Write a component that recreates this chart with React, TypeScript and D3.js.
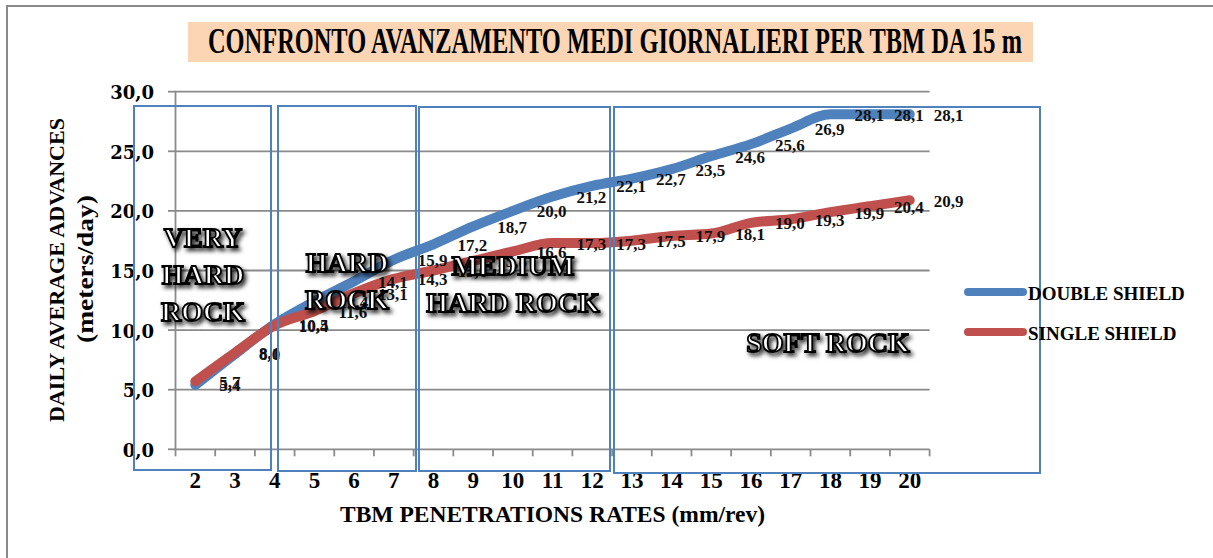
import React from "react";
import * as d3 from "d3";

const categories = ["2", "3", "4", "5", "6", "7", "8", "9", "10", "11", "12", "13", "14", "15", "16", "17", "18", "19", "20"];
const doubleShield = [5.4, 8.0, 10.5, 12.4, 14.1, 15.9, 17.2, 18.7, 20.0, 21.2, 22.1, 22.7, 23.5, 24.6, 25.6, 26.9, 28.1, 28.1, 28.1];
const singleShield = [5.7, 8.1, 10.4, 11.6, 13.1, 14.3, 15.0, 15.8, 16.6, 17.3, 17.3, 17.5, 17.9, 18.1, 19.0, 19.3, 19.9, 20.4, 20.9];
const yTicks = [0, 5, 10, 15, 20, 25, 30];
const seriesNames = ["DOUBLE SHIELD", "SINGLE SHIELD"];
const seriesColors = ["#4F81BD", "#C0504D"];
const title = "CONFRONTO AVANZAMENTO MEDI GIORNALIERI PER TBM DA 15 m";
const xTitle = "TBM PENETRATIONS RATES (mm/rev)";
const yTitle = ["DAILY AVERAGE ADVANCES", "(meters/day)"];

const zones = [
  { x0: 134, x1: 271, y0: 106, y1: 470, lines: ["VERY", "HARD", "ROCK"], cx: 203, base: [247, 284, 321] },
  { x0: 278, x1: 416, y0: 106, y1: 471, lines: ["HARD", "ROCK"], cx: 347, base: [272, 309] },
  { x0: 419, x1: 610, y0: 107, y1: 471, lines: ["MEDIUM", "HARD ROCK"], cx: 513, base: [275, 312] },
  { x0: 614, x1: 1040, y0: 107, y1: 473, lines: ["SOFT ROCK"], cx: 828, base: [352] },
];

const fmt = (v: number) => v.toFixed(1).replace(".", ",");

export default function App() {
  const W = 1213, H = 558;
  const x = d3.scaleBand<string>().domain(categories).range([175.5, 929.6]).padding(0);
  const bw = x.bandwidth();
  const cx = (c: string) => (x(c) as number) + bw / 2;
  const y = d3.scaleLinear().domain([0, 30]).range([449.3, 91.7]);
  const line = d3
    .line<number>()
    .x((_, i) => cx(categories[i]))
    .y((d) => y(d))
    .curve(d3.curveMonotoneX);
  const series = [doubleShield, singleShield];
  const serif = "'Liberation Serif', 'Times New Roman', serif";
  const boundaries = categories.map((c) => x(c) as number).concat([x.range()[1]]);

  return (
    <svg width={W} height={H} style={{ position: "absolute", left: 0, top: 0 }} xmlns="http://www.w3.org/2000/svg">
      <defs>
        <filter id="sh" x="-20%" y="-30%" width="150%" height="180%">
          <feDropShadow dx="2.5" dy="3" stdDeviation="2.2" floodColor="#000" floodOpacity="0.85" />
        </filter>
      </defs>
      <rect x={0} y={0} width={W} height={H} fill="#fff" />
      {/* outer frame */}
      <path d={`M7,${H} L7,6 L${W},6`} fill="none" stroke="#8a8a8a" strokeWidth={2} />
      {/* title */}
      <rect x={188} y={22} width={845} height={40} fill="#FCD5B4" />
      <text x={208} y={53} fontFamily={serif} fontWeight="bold" fontSize={36} textLength={814} lengthAdjust="spacingAndGlyphs" fill="#000">
        {title}
      </text>
      {/* gridlines */}
      {yTicks.map((t) => (
        <g key={t}>
          <line x1={175.5} x2={929.6} y1={y(t)} y2={y(t)} stroke="#8a8a8a" strokeWidth={1.8} />
          <line x1={168} x2={175.5} y1={y(t)} y2={y(t)} stroke="#8a8a8a" strokeWidth={1.8} />
          <text x={154} y={y(t) + 1} textAnchor="end" dominantBaseline="central" fontFamily="'DejaVu Serif', serif" fontWeight="bold" fontSize={18} fill="#000">
            {fmt(t)}
          </text>
        </g>
      ))}
      <line x1={175.5} x2={175.5} y1={y(30) - 1} y2={y(0)} stroke="#8a8a8a" strokeWidth={1.8} />
      {boundaries.map((b, i) => (
        <line key={i} x1={b} x2={b} y1={y(0)} y2={y(0) + 7} stroke="#8a8a8a" strokeWidth={1.8} />
      ))}
      {categories.map((c) => (
        <text key={c} x={cx(c)} y={488} textAnchor="middle" fontFamily={serif} fontWeight="bold" fontSize={23} fill="#000">
          {c}
        </text>
      ))}
      <text x={552.5} y={522} textAnchor="middle" fontFamily={serif} fontWeight="bold" fontSize={24} textLength={425} lengthAdjust="spacingAndGlyphs" fill="#000">
        {xTitle}
      </text>
      <text transform="translate(64,270) rotate(-90)" textAnchor="middle" fontFamily={serif} fontWeight="bold" fontSize={21} textLength={304} lengthAdjust="spacingAndGlyphs" fill="#000">
        {yTitle[0]}
      </text>
      <text transform="translate(93,269) rotate(-90)" textAnchor="middle" fontFamily={serif} fontWeight="bold" fontSize={23} textLength={148} lengthAdjust="spacingAndGlyphs" fill="#000">
        {yTitle[1]}
      </text>
      {/* lines */}
      {series.map((s, k) => (
        <path key={k} d={line(s) || ""} fill="none" stroke={seriesColors[k]} strokeWidth={10} strokeLinecap="round" strokeLinejoin="round" />
      ))}
      {/* data labels */}
      {series.map((s, k) =>
        s.map((v, i) => (
          <text key={`${k}-${i}`} x={cx(categories[i]) + 24} y={y(v) + 1} dominantBaseline="central" fontFamily={serif} fontWeight="bold" fontSize={17} fill="#111">
            {fmt(v)}
          </text>
        ))
      )}
      {/* zone boxes */}
      {zones.map((z, i) => (
        <rect key={i} x={z.x0} y={z.y0} width={z.x1 - z.x0} height={z.y1 - z.y0} fill="none" stroke="#4F81BD" strokeWidth={2} />
      ))}
      {/* zone labels */}
      {zones.map((z, i) =>
        z.lines.map((t, j) => (
          <text key={`${i}-${j}`} x={z.cx} y={z.base[j]} textAnchor="middle" fontFamily={serif} fontWeight="bold" fontSize={28} fill="#fff" stroke="#000" strokeWidth={1.8} filter="url(#sh)">
            {t}
          </text>
        ))
      )}
      {/* legend */}
      {seriesNames.map((n, k) => (
        <g key={n}>
          <line x1={968} x2={1023} y1={292 + k * 40} y2={292 + k * 40} stroke={seriesColors[k]} strokeWidth={8} strokeLinecap="round" />
          <text x={1028} y={293 + k * 40} dominantBaseline="central" fontFamily={serif} fontWeight="bold" fontSize={19} fill="#000">
            {n}
          </text>
        </g>
      ))}
    </svg>
  );
}
